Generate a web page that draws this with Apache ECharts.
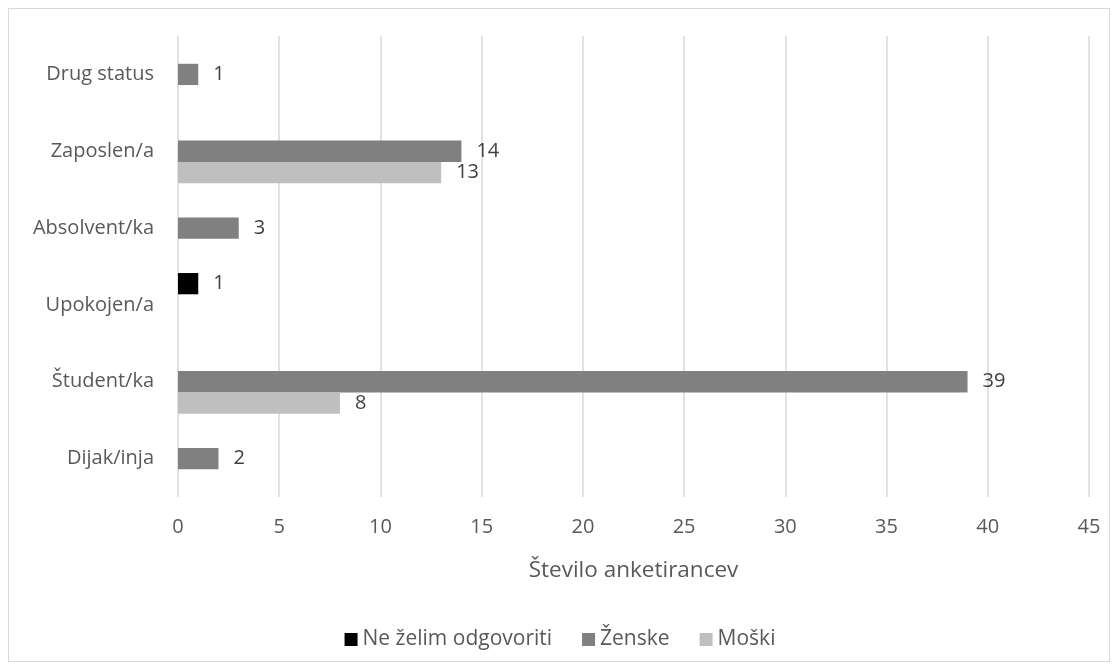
<!DOCTYPE html>
<html>
<head>
<meta charset="utf-8">
<script src="https://cdn.jsdelivr.net/npm/echarts@6/dist/echarts.min.js"></script>
<style>
  html, body { margin: 0; padding: 0; background: #ffffff; }
  #frame { position: absolute; left: 8px; top: 8px; width: 1102px; height: 654px; border: 1px solid #d9d9d9; box-sizing: border-box; }
  #chart { width: 1120px; height: 672px; position: absolute; left: 0; top: 0; }
</style>
</head>
<body>
<div id="frame"></div>
<div id="chart"></div>
<script>
// Status categories, listed bottom to top along the vertical axis
const categories = ['Dijak/inja', 'Študent/ka', 'Upokojen/a', 'Absolvent/ka', 'Zaposlen/a', 'Drug status'];
const seriesNames = ['Ne želim odgovoriti', 'Ženske', 'Moški'];
// Respondent counts per status (null = no respondents)
const neZelim = [null, null, 1, null, null, null];
const zenske = [2, 39, null, 3, 14, 1];
const moski = [null, 8, null, null, 13, null];
const xTicks = [0, 5, 10, 15, 20, 25, 30, 35, 40, 45];
const axisTitle = 'Število anketirancev';

const colors = ['#000000', '#808080', '#bfbfbf'];
const font = '"Open Sans", "Noto Sans", sans-serif';

function barSeries(name, data, color) {
  return {
    name: name,
    type: 'bar',
    data: data,
    itemStyle: { color: color },
    barGap: '0%',
    barCategoryGap: '17%',
    label: {
      show: true,
      position: 'right',
      distance: 15,
      color: '#404040',
      fontFamily: font,
      fontSize: 20
    }
  };
}

const chart = echarts.init(document.getElementById('chart'), null, { renderer: 'canvas' });
chart.setOption({
  backgroundColor: 'transparent',
  animation: false,
  grid: { left: 178, right: 31, top: 36, bottom: 175, containLabel: false },
  legend: {
    data: seriesNames,
    top: 624,
    left: 'center',
    itemWidth: 13,
    itemHeight: 13,
    itemGap: 30,
    icon: 'rect',
    textStyle: { color: '#595959', fontFamily: font, fontSize: 21 }
  },
  xAxis: {
    type: 'value',
    min: xTicks[0],
    max: xTicks[xTicks.length - 1],
    interval: xTicks[1] - xTicks[0],
    name: axisTitle,
    nameLocation: 'middle',
    nameGap: 62,
    nameTextStyle: { color: '#595959', fontFamily: font, fontSize: 22.5 },
    axisLine: { show: false },
    axisTick: { show: false },
    axisLabel: { color: '#595959', fontFamily: font, fontSize: 20, margin: 20 },
    splitLine: { show: true, lineStyle: { color: '#d9d9d9', width: 1.5 } }
  },
  yAxis: {
    type: 'category',
    data: categories,
    axisLine: { show: false },
    axisTick: { show: false },
    axisLabel: { color: '#595959', fontFamily: font, fontSize: 20, margin: 24 },
    splitLine: { show: false }
  },
  series: [
    barSeries(seriesNames[0], neZelim, colors[0]),
    barSeries(seriesNames[1], zenske, colors[1]),
    barSeries(seriesNames[2], moski, colors[2])
  ]
});
</script>
</body>
</html>
